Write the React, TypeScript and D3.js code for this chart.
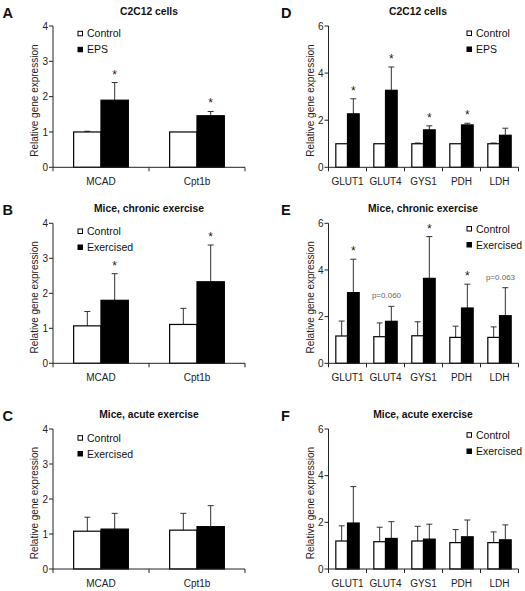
import React from "react";
import * as d3 from "d3";

const leftCats = ["MCAD", "Cpt1b"];
const rightCats = ["GLUT1", "GLUT4", "GYS1", "PDH", "LDH"];

// Panel A
const aCtrl = [1.0, 1.0];
const aCtrlSem = [0.02, 0.0];
const aTreat = [1.9, 1.46];
const aTreatSem = [0.5, 0.12];
const aSig = ["*", "*"];
// Panel B
const bCtrl = [1.07, 1.11];
const bCtrlSem = [0.41, 0.46];
const bTreat = [1.8, 2.33];
const bTreatSem = [0.76, 1.05];
const bSig = ["*", "*"];
// Panel C
const cCtrl = [1.08, 1.11];
const cCtrlSem = [0.4, 0.48];
const cTreat = [1.14, 1.21];
const cTreatSem = [0.45, 0.6];
const cSig = ["", ""];
// Panel D
const dCtrl = [1.0, 1.0, 1.0, 1.0, 1.0];
const dCtrlSem = [0.0, 0.0, 0.03, 0.0, 0.03];
const dTreat = [2.27, 3.27, 1.59, 1.8, 1.36];
const dTreatSem = [0.64, 0.99, 0.17, 0.07, 0.3];
const dSig = ["*", "*", "*", "*", ""];
// Panel E
const eCtrl = [1.17, 1.14, 1.18, 1.11, 1.11];
const eCtrlSem = [0.64, 0.59, 0.6, 0.48, 0.45];
const eTreat = [3.03, 1.8, 3.64, 2.37, 2.04];
const eTreatSem = [1.43, 0.64, 1.79, 1.02, 1.2];
const eSig = ["*", "p=0.060", "*", "*", "p=0.063"];
// Panel F
const fCtrl = [1.2, 1.17, 1.2, 1.13, 1.13];
const fCtrlSem = [0.65, 0.62, 0.63, 0.56, 0.46];
const fTreat = [1.97, 1.31, 1.28, 1.38, 1.25];
const fTreatSem = [1.56, 0.72, 0.64, 0.72, 0.64];
const fSig = ["", "", "", "", ""];

const leftTicks = [0, 1, 2, 3, 4];
const rightTicks = [0, 2, 4, 6];

const FONT = "'Liberation Sans', Arial, Helvetica, sans-serif";

type PanelProps = {
  letter: string;
  title: string;
  titleX: number;
  cats: string[];
  ctrl: number[];
  ctrlSem: number[];
  treat: number[];
  treatSem: number[];
  sig: string[];
  legend: [string, string];
  legendX: number;
  legendY: [number, number];
  x0: number;
  x1: number;
  top: number;
  bottom: number;
  yMax: number;
  ticks: number[];
  groupFrac: number;
  letterX: number;
};

function Panel(p: PanelProps) {
  const x = d3.scaleBand<string>().domain(p.cats).range([p.x0, p.x1]).padding(0);
  const y = d3.scaleLinear().domain([0, p.yMax]).range([p.bottom, p.top]);
  const bw = x.bandwidth();
  const inner = d3
    .scaleBand<string>()
    .domain(["ctrl", "treat"])
    .range([(bw * (1 - p.groupFrac)) / 2, bw - (bw * (1 - p.groupFrac)) / 2])
    .padding(0);
  const barW = inner.bandwidth();
  const cap = 3;
  const boundaries = [...p.cats.map((c) => x(c)!), p.x1];
  const ytitleX = p.x0 - 15;
  const ytitleY = (p.top + p.bottom) / 2 + 4;

  const series = [
    { key: "ctrl", vals: p.ctrl, sem: p.ctrlSem, fill: "#ffffff" },
    { key: "treat", vals: p.treat, sem: p.treatSem, fill: "#000000" },
  ];

  return (
    <g fontFamily={FONT}>
      <text x={p.letterX} y={p.top - 8.5} fontSize={14.5} fontWeight="bold" fill="#111">
        {p.letter}
      </text>
      <text x={p.titleX} y={p.top - 11.5} fontSize={10.3} fontWeight="bold" textAnchor="middle" fill="#111">
        {p.title}
      </text>
      {series.map((s) =>
        p.cats.map((c, i) => {
          const bx = x(c)! + inner(s.key)!;
          const by = y(s.vals[i]);
          const cx = bx + barW / 2;
          const et = y(s.vals[i] + s.sem[i]);
          return (
            <g key={s.key + c}>
              {s.sem[i] > 0.005 && (
                <g stroke="#333" strokeWidth={1}>
                  <line x1={cx} x2={cx} y1={by} y2={et} />
                  <line x1={cx - cap} x2={cx + cap} y1={et} y2={et} />
                </g>
              )}
              <rect x={bx} y={by} width={barW} height={p.bottom - by} fill={s.fill} stroke="#000" strokeWidth={1.2} />
            </g>
          );
        })
      )}
      {p.cats.map((c, i) => {
        const s = p.sig[i];
        if (!s) return null;
        if (s === "*") {
          const cx = x(c)! + inner("treat")! + barW / 2;
          const et = y(p.treat[i] + p.treatSem[i]);
          return (
            <text key={"sig" + c} x={cx} y={et - 4} fontSize={12} textAnchor="middle" fill="#222">
              *
            </text>
          );
        }
        const cx = x(c)! + bw / 2 + 1;
        const et = y(p.treat[i] + p.treatSem[i]);
        return (
          <text key={"sig" + c} x={cx} y={et - 8} fontSize={8} textAnchor="middle" fill="#666">
            {s}
          </text>
        );
      })}
      {/* axes */}
      <line x1={p.x0} x2={p.x0} y1={p.top} y2={p.bottom} stroke="#222" strokeWidth={1} />
      <line x1={p.x0} x2={p.x1} y1={p.bottom} y2={p.bottom} stroke="#222" strokeWidth={1} />
      {p.ticks.map((t) => (
        <g key={"yt" + t}>
          <line x1={p.x0 - 4} x2={p.x0} y1={y(t)} y2={y(t)} stroke="#222" strokeWidth={1} />
          <text x={p.x0 - 5} y={y(t) + 3.6} fontSize={10} textAnchor="end" fill="#222">
            {t}
          </text>
        </g>
      ))}
      {boundaries.map((bx, i) => (
        <line key={"xt" + i} x1={bx} x2={bx} y1={p.bottom} y2={p.bottom + 4} stroke="#222" strokeWidth={1} />
      ))}
      {p.cats.map((c) => (
        <text key={"xl" + c} x={x(c)! + bw / 2} y={p.bottom + 17.5} fontSize={10} textAnchor="middle" fill="#222">
          {c}
        </text>
      ))}
      <text
        transform={`translate(${ytitleX},${ytitleY}) rotate(-90)`}
        fontSize={10}
        textAnchor="middle"
        fill="#222"
      >
        Relative gene expression
      </text>
      {/* legend */}
      {p.legend.map((l, i) => (
        <g key={"lg" + i}>
          <rect
            x={p.legendX}
            y={p.legendY[i] - 6}
            width={4.5}
            height={4.5}
            fill={i === 0 ? "#fff" : "#000"}
            stroke="#000"
            strokeWidth={1}
          />
          <text x={p.legendX + 9} y={p.legendY[i]} fontSize={10.5} fill="#111">
            {l}
          </text>
        </g>
      ))}
    </g>
  );
}

export default function App() {
  const L = { x0: 53, x1: 245, yMax: 4, ticks: leftTicks, groupFrac: 0.57, letterX: 2.5, legendX: 78 };
  const R = { x0: 328.5, x1: 518.5, yMax: 6, ticks: rightTicks, groupFrac: 0.615, letterX: 281, legendX: 467 };
  const rows: [number, number][] = [
    [26, 167.3],
    [223.3, 363.3],
    [429, 569],
  ];
  return (
    <svg
      width={525}
      height={591}
      style={{ position: "absolute", left: 0, top: 0, background: "#fff" }}
    >
      <rect x={0} y={0} width={525} height={591} fill="#fff" />
      <Panel
        {...L}
        letter="A"
        title="C2C12 cells"
        titleX={149}
        cats={leftCats}
        ctrl={aCtrl}
        ctrlSem={aCtrlSem}
        treat={aTreat}
        treatSem={aTreatSem}
        sig={aSig}
        legend={["Control", "EPS"]}
        legendY={[37.3, 53.3]}
        top={rows[0][0]}
        bottom={rows[0][1]}
      />
      <Panel
        {...L}
        letter="B"
        title="Mice, chronic exercise"
        titleX={149}
        cats={leftCats}
        ctrl={bCtrl}
        ctrlSem={bCtrlSem}
        treat={bTreat}
        treatSem={bTreatSem}
        sig={bSig}
        legend={["Control", "Exercised"]}
        legendY={[235, 251]}
        top={rows[1][0]}
        bottom={rows[1][1]}
      />
      <Panel
        {...L}
        letter="C"
        title="Mice, acute exercise"
        titleX={149}
        cats={leftCats}
        ctrl={cCtrl}
        ctrlSem={cCtrlSem}
        treat={cTreat}
        treatSem={cTreatSem}
        sig={cSig}
        legend={["Control", "Exercised"]}
        legendY={[441.7, 457.5]}
        top={rows[2][0]}
        bottom={rows[2][1]}
      />
      <Panel
        {...R}
        letter="D"
        title="C2C12 cells"
        titleX={418}
        cats={rightCats}
        ctrl={dCtrl}
        ctrlSem={dCtrlSem}
        treat={dTreat}
        treatSem={dTreatSem}
        sig={dSig}
        legend={["Control", "EPS"]}
        legendY={[37, 53]}
        top={rows[0][0]}
        bottom={rows[0][1]}
      />
      <Panel
        {...R}
        letter="E"
        title="Mice, chronic exercise"
        titleX={423}
        cats={rightCats}
        ctrl={eCtrl}
        ctrlSem={eCtrlSem}
        treat={eTreat}
        treatSem={eTreatSem}
        sig={eSig}
        legend={["Control", "Exercised"]}
        legendY={[232.5, 248.5]}
        top={rows[1][0]}
        bottom={rows[1][1]}
      />
      <Panel
        {...R}
        letter="F"
        title="Mice, acute exercise"
        titleX={423}
        cats={rightCats}
        ctrl={fCtrl}
        ctrlSem={fCtrlSem}
        treat={fTreat}
        treatSem={fTreatSem}
        sig={fSig}
        legend={["Control", "Exercised"]}
        legendY={[438.7, 455]}
        top={rows[2][0]}
        bottom={rows[2][1]}
      />
    </svg>
  );
}
